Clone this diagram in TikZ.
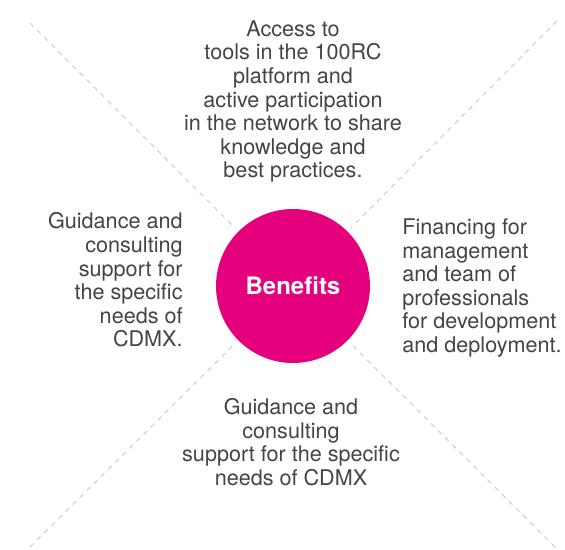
\documentclass[tikz,border=0pt]{standalone}
\usepackage{fontspec}
\setmainfont{TeX Gyre Heros}
\usetikzlibrary{positioning}
\definecolor{benpink}{HTML}{E5007D}
\definecolor{txtgray}{HTML}{444444}
\definecolor{dashgray}{HTML}{C8C8C8}

\begin{document}
\begin{tikzpicture}[x=1pt, y=-1pt,
	c/.style={circle, fill=benpink, minimum size=154pt, inner sep=0pt, text=white, font=\fontsize{24}{28}\selectfont\bfseries},
	t/.style={inner sep=0pt, text=txtgray, font=\fontsize{21.6}{23.6}\selectfont},
	d/.style={draw=dashgray, line width=0.9pt, dash pattern=on 5pt off 5pt, shorten >=5pt}]
		\useasboundingbox (0,0) rectangle (565,549);
		\node[c] (b) at (293,286) {Benefits};
		\node[t, align=center, above=26pt of b] (access) {Access to\\tools in the 100RC\\platform and\\active participation\\in the network to share\\knowledge and\\best practices.};
		\node[t, align=right, left=33pt of b, yshift=6pt] (guide) {Guidance and\\consulting\\support for\\the specific\\needs of\\CDMX.};
		\node[t, align=left, right=32pt of b, yshift=-2pt] (fin) {Financing for\\management\\and team of\\professionals\\for development\\and deployment.};
		\node[t, align=center, below=35pt of b, xshift=-2pt] (guide2) {Guidance and\\consulting\\support for the specific\\needs of CDMX};

		\coordinate (nw) at (30,23);
		\coordinate (ne) at (557,21);
		\coordinate (sw) at (30,547);
		\coordinate (se) at (555,547);

		\draw[d] (nw) -- (b);
		\draw[d] (ne) -- (b);
		\draw[d] (sw) -- (b);
		\draw[d] (se) -- (b);
	\end{tikzpicture}
\end{document}
